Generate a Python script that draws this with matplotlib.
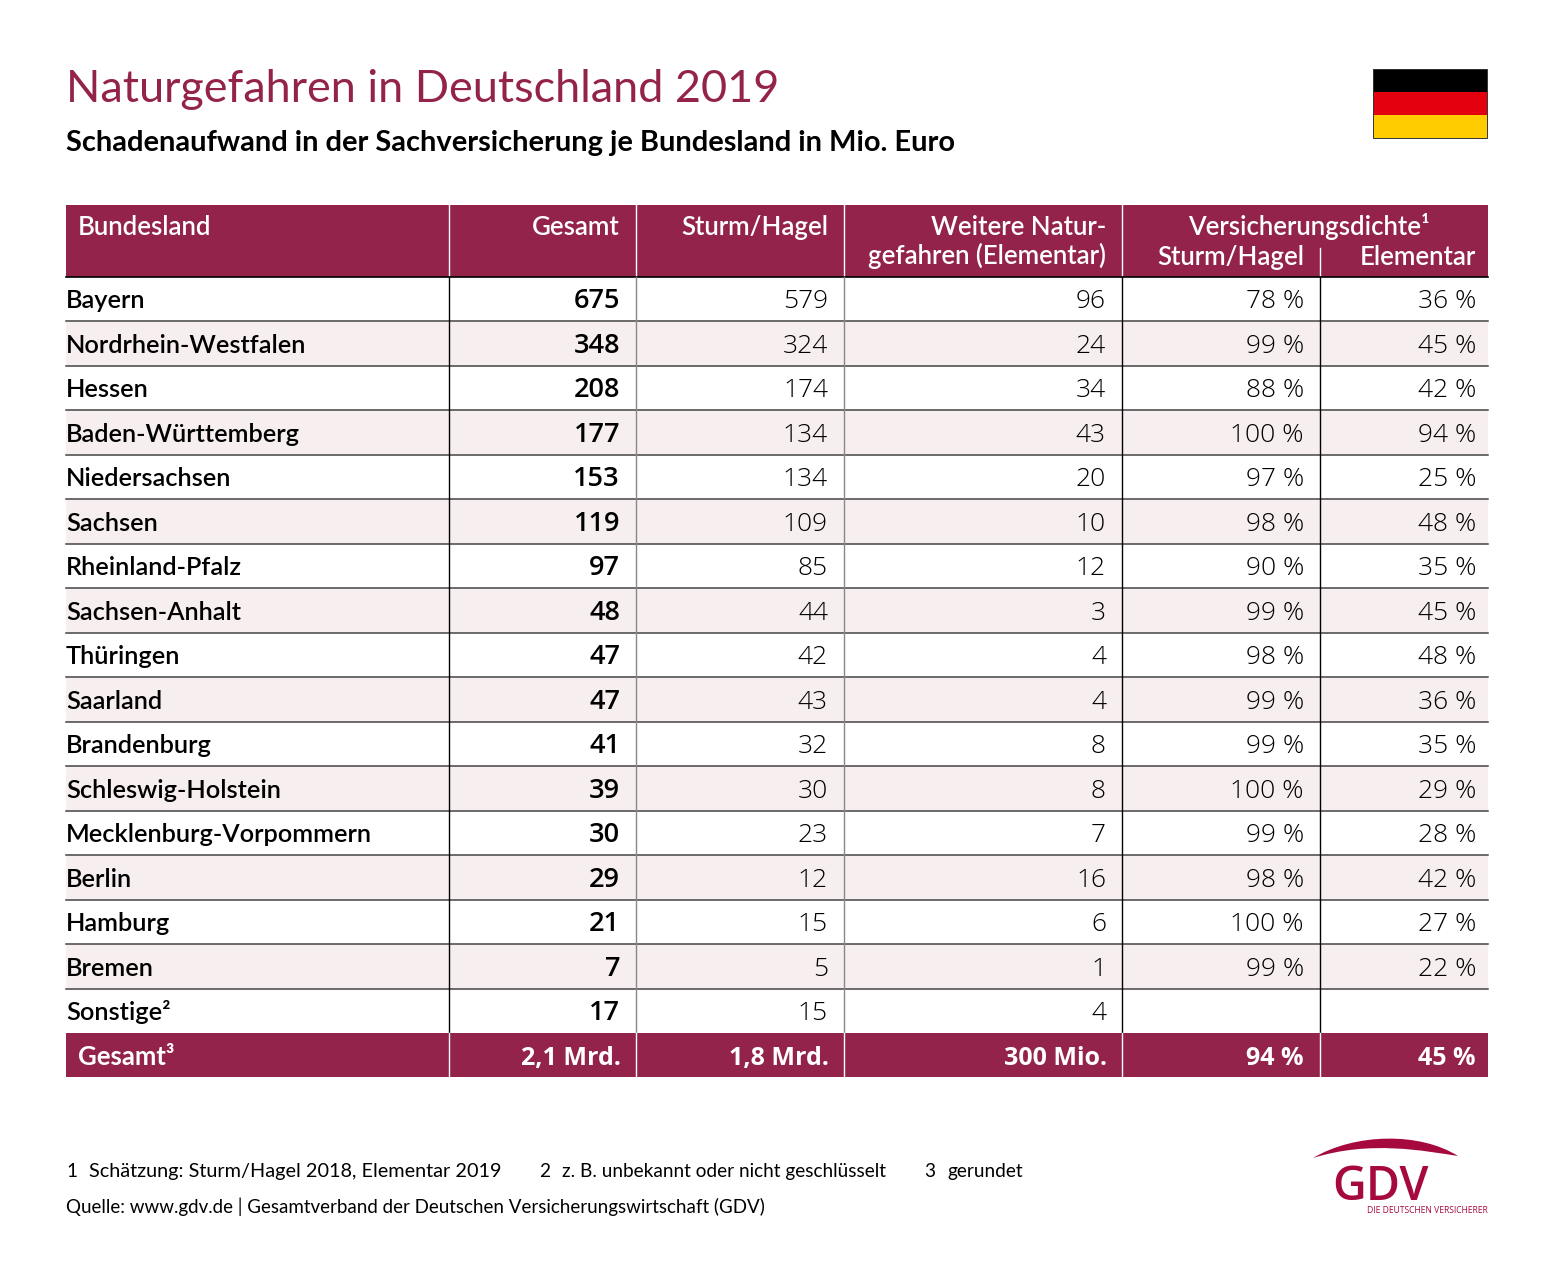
#!/usr/bin/env python3
# Naturgefahren in Deutschland 2019 - table graphic
import matplotlib
matplotlib.use("Agg")
import matplotlib.pyplot as plt
from matplotlib.patches import Rectangle, PathPatch
from matplotlib.path import Path

# Table data
states = ["Bayern", "Nordrhein-Westfalen", "Hessen", "Baden-Württemberg", "Niedersachsen",
          "Sachsen", "Rheinland-Pfalz", "Sachsen-Anhalt", "Thüringen", "Saarland",
          "Brandenburg", "Schleswig-Holstein", "Mecklenburg-Vorpommern", "Berlin",
          "Hamburg", "Bremen", "Sonstige²"]
gesamt = [675, 348, 208, 177, 153, 119, 97, 48, 47, 47, 41, 39, 30, 29, 21, 7, 17]
sturm = [579, 324, 174, 134, 134, 109, 85, 44, 42, 43, 32, 30, 23, 12, 15, 5, 15]
weitere = [96, 24, 34, 43, 20, 10, 12, 3, 4, 4, 8, 8, 7, 16, 6, 1, 4]
dichte_sturm = [78, 99, 88, 100, 97, 98, 90, 99, 98, 99, 99, 100, 99, 98, 100, 99, None]
dichte_elem = [36, 45, 42, 94, 25, 48, 35, 45, 48, 36, 35, 29, 28, 42, 27, 22, None]
total_row = ["Gesamt³", "2,1 Mrd.", "1,8 Mrd.", "300 Mio.", "94 %", "45 %"]
flag_colours = ["#000000", "#E3000F", "#FFCC00"]

# Layout in pixels
W, H = 1551, 1278
RED = "#93234A"
ZEBRA = "#F6EEEF"
col_x = [66, 449, 636, 844, 1122, 1320, 1488]
right_x = [620, 828, 1106, 1304, 1476]
head_top, head_bot = 205, 277
row_h = (1033 - 277) / 17

# Font styles
label = dict(family="Lato", fontweight="semibold", fontsize=18.3, va="baseline")
num = dict(family="Open Sans", fontweight="light", fontsize=19, va="baseline", ha="right", color="black")
num_bold = dict(family="Open Sans", fontweight="semibold", fontsize=19.5, va="baseline", ha="right", color="black")
head = dict(family="Lato", fontweight="semibold", fontsize=18.5, va="baseline", color="white")
foot = dict(family="Lato", fontsize=13.7, va="baseline", color="black")

fig = plt.figure(figsize=(W / 100, H / 100), dpi=100)
ax = fig.add_axes([0, 0, 1, 1])
ax.set_xlim(0, W)
ax.set_ylim(H, 0)
ax.axis("off")

# Title
ax.text(66, 102, "Naturgefahren in Deutschland 2019", color=RED, family="Lato", fontsize=32.4, va="baseline")
ax.text(66, 151, "Schadenaufwand in der Sachversicherung je Bundesland in Mio. Euro",
        color="black", family="Lato", fontsize=20.9, fontweight="bold", va="baseline")

# Flag
for i, c in enumerate(flag_colours):
    ax.add_patch(Rectangle((1373, 69 + i * 23), 114, 23, fc=c, ec="none"))
ax.add_patch(Rectangle((1373, 69), 114, 69, fc="none", ec="#333333", lw=0.7))

# Header band
ax.add_patch(Rectangle((66, head_top), 1422, head_bot - head_top, fc=RED, ec="none"))
for x in col_x[1:5]:
    ax.plot([x, x], [head_top, head_bot], color="white", lw=1)
ax.plot([1320, 1320], [248, head_bot], color="white", lw=1)
ax.plot([66, 1488], [head_bot, head_bot], color="black", lw=1.2)

ax.text(78, 235, "Bundesland", **head)
ax.text(620, 235, "Gesamt", ha="right", **head)
ax.text(828, 235, "Sturm/Hagel", ha="right", **head)
ax.text(1106, 235, "Weitere Natur-", ha="right", **head)
ax.text(1106, 264, "gefahren (Elementar)", ha="right", **head)
ax.text(1309, 235, "Versicherungsdichte¹", ha="center", **head)
ax.text(1304, 265, "Sturm/Hagel", ha="right", **head)
ax.text(1476, 265, "Elementar", ha="right", **head)

# Body rows
for i, state in enumerate(states):
    top = head_bot + i * row_h
    base = top + 31.5
    if i % 2 == 1:
        ax.add_patch(Rectangle((66, top), 1422, row_h, fc=ZEBRA, ec="none", zorder=0))
    if i > 0:
        ax.plot([66, 1488], [top, top], color="#444444", lw=1.1)
    ax.text(66, base, state, color="black", **label)
    ax.text(right_x[0], base, str(gesamt[i]), **num_bold)
    ax.text(right_x[1], base, str(sturm[i]), **num)
    ax.text(right_x[2], base, str(weitere[i]), **num)
    if dichte_sturm[i] is not None:
        ax.text(right_x[3], base, f"{dichte_sturm[i]} %", **num)
        ax.text(right_x[4], base, f"{dichte_elem[i]} %", **num)

# Vertical rules in the body
for x, c in zip(col_x[1:6], ["black", "#888888", "#888888", "black", "black"]):
    ax.plot([x, x], [head_bot, 1033], color=c, lw=1)

# Total row
ax.add_patch(Rectangle((66, 1033), 1422, row_h, fc=RED, ec="none"))
for x in col_x[1:6]:
    ax.plot([x, x], [1033, 1033 + row_h], color="white", lw=1)
total_base = 1033 + 32
ax.text(78, total_base, total_row[0], color="white", family="Lato", fontsize=18.5,
        fontweight="bold", va="baseline")
for x, text in zip([621, 829, 1107, 1304, 1476], total_row[1:]):
    ax.text(x, total_base, text, color="white", family="Open Sans", fontsize=18,
            fontweight="bold", va="baseline", ha="right")

# Footnotes
ax.text(66, 1177, "1", **foot)
ax.text(89, 1177, "Schätzung: Sturm/Hagel 2018, Elementar 2019", **{**foot, "fontsize": 14.3})
ax.text(539, 1177, "2", **foot)
ax.text(562, 1177, "z. B. unbekannt oder nicht geschlüsselt", **foot)
ax.text(924, 1177, "3", **foot)
ax.text(947, 1177, "gerundet", **foot)
ax.text(66, 1213, "Quelle: www.gdv.de | Gesamtverband der Deutschen Versicherungswirtschaft (GDV)",
        **{**foot, "fontsize": 13.5})

# Logo
LOGO = "#A6093D"
arc = Path([(1313, 1158), (1355, 1133), (1420, 1132), (1458, 1156),
            (1425, 1151), (1370, 1140), (1313, 1158)],
           [Path.MOVETO, Path.CURVE4, Path.CURVE4, Path.CURVE4,
            Path.CURVE4, Path.CURVE4, Path.CURVE4])
ax.add_patch(PathPatch(arc, fc=LOGO, ec="none"))
ax.text(1380, 1200, "GDV", color=LOGO, family="Open Sans", fontsize=33.5, ha="center",
        va="baseline", fontweight="semibold")
ax.text(1488, 1213, "DIE DEUTSCHEN VERSICHERER", color=LOGO, family="Open Sans", fontsize=6.15,
        ha="right", va="baseline")

fig.savefig("out.png", dpi=100)
